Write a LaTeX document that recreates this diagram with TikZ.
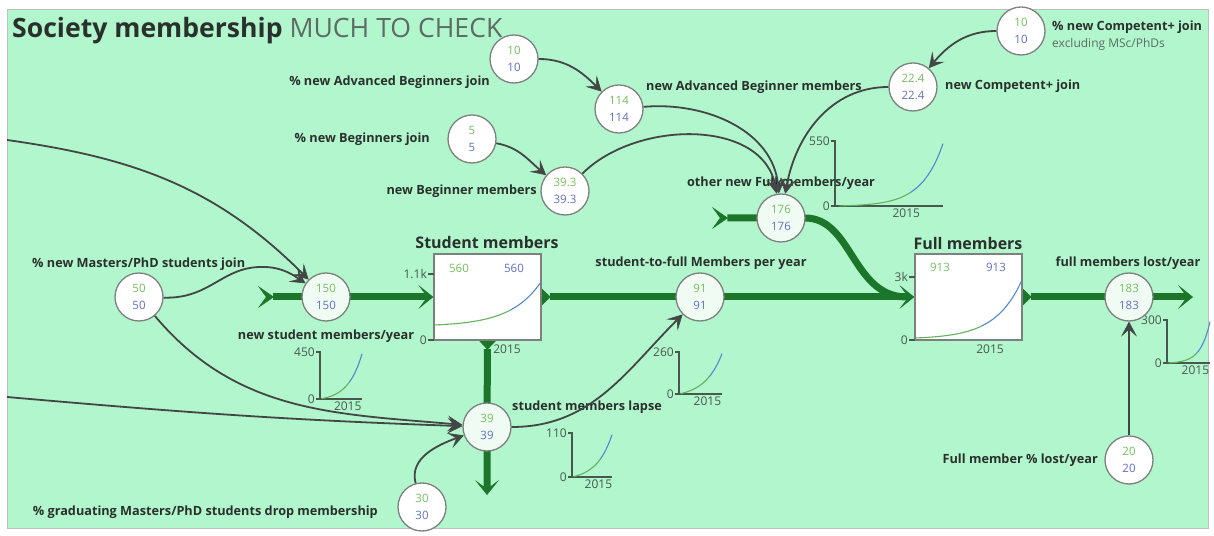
\documentclass[tikz,border=0pt]{standalone}
\usepackage{fontspec}
\setmainfont{Open Sans}
\usetikzlibrary{arrows.meta}
\pgfdeclarelayer{backdrop}
\pgfdeclarelayer{pipes}
\pgfsetlayers{backdrop,pipes,main}

\definecolor{mint}{RGB}{178,246,206}
\definecolor{pipegreen}{RGB}{28,118,42}
\definecolor{linkc}{RGB}{66,70,68}
\definecolor{numg}{RGB}{118,190,98}
\definecolor{numb}{RGB}{98,112,192}
\definecolor{ringc}{RGB}{125,128,125}
\definecolor{flowfill}{RGB}{240,251,243}
\definecolor{txt}{RGB}{42,48,44}
\definecolor{subtxt}{RGB}{92,108,98}
\definecolor{axisc}{RGB}{72,88,76}
\definecolor{trendgc}{RGB}{100,178,92}
\definecolor{trendbc}{RGB}{84,136,204}

\newcommand\twonum[2]{\textcolor{numg}{#1}\\\textcolor{numb}{#2}}

\tikzset{
  conv/.style={circle, draw=ringc, line width=1.3pt, fill=white,
    minimum size=48pt, inner sep=0pt, align=center,
    font=\fontsize{11.5}{16.5}\selectfont},
  flowc/.style={conv, fill=flowfill},
  stock/.style={draw=ringc, line width=1.3pt, fill=white,
    minimum width=107pt, minimum height=86pt, inner sep=0pt},
  lbl/.style={inner sep=0pt, text=txt, font=\fontsize{12.7}{14}\selectfont\bfseries},
  stocktitle/.style={inner sep=0pt, text=txt, font=\fontsize{16}{18}\selectfont\bfseries},
  numlbl/.style={inner sep=0pt, font=\fontsize{11.5}{13}\selectfont},
  axislbl/.style={inner sep=1pt, text=axisc, font=\fontsize{12}{14}\selectfont},
  axisline/.style={draw=axisc, line width=1.2pt},
  trendg/.style={draw=trendgc, line width=1.1pt},
  trendb/.style={draw=trendbc, line width=1.1pt},
  pipe/.style={draw=pipegreen, line width=7pt},
  link/.style={draw=linkc, line width=1.8pt,
    -{Stealth[length=15pt,width=16pt,inset=7pt,line width=0.6pt]}},
}

% small time-series plot: name, x0, y0, width, height, top value, growth rate
\newcommand\sparkplot[7]{%
  \begin{scope}[shift={(#2,#3)}]
    \draw[axisline] (-4,#5) -- (0,#5) -- (0,0) -- (#4,0);
    \draw[axisline] (-4,0) -- (0,0);
    \node[axislbl,anchor=east] (#1top) at (-4,#5) {#6};
    \node[axislbl,anchor=east] (#1zero) at (-4,0) {0};
    \node[axislbl,anchor=north] (#1year) at ({0.66*#4},-2) {2015};
    \draw[trendg] plot[domain=0.04:0.7,samples=25,smooth]
      ({\x*#4},{0.96*#5*(exp(#7*\x)-1)/(exp(#7)-1)});
    \draw[trendb] plot[domain=0.7:1,samples=12,smooth]
      ({\x*#4},{0.96*#5*(exp(#7*\x)-1)/(exp(#7)-1)});
  \end{scope}}

\begin{document}
\begin{tikzpicture}[x=1pt,y=1pt]
\useasboundingbox (0,0) rectangle (1214,535);
\begin{pgfonlayer}{backdrop}
  \fill[white] (0,0) rectangle (1214,535);
  \filldraw[fill=mint, draw=black!25, line width=0.6pt] (7,7) rectangle (1208,526);
\end{pgfonlayer}

% title
\node[anchor=base west, inner sep=0pt, text=txt] (title) at (12,497)
  {\fontsize{26.6}{30}\selectfont\bfseries Society membership
   \mdseries\textcolor{subtxt}{MUCH TO CHECK}};

% small plots (behind the circles)
\sparkplot{gI}{320}{136}{42}{47}{450}{3}
\sparkplot{gJ}{679}{141}{43}{42}{260}{2.5}
\sparkplot{gK}{572}{58}{40}{44}{110}{2.6}
\sparkplot{gG}{835}{329}{108}{65}{550}{5}
\sparkplot{gM}{1167}{172}{43}{43}{300}{4.5}

% converters
\node[conv] (A) at (514,476) {\twonum{10}{10}};
\node[conv] (B) at (619,426) {\twonum{114}{114}};
\node[conv] (C) at (472,396) {\twonum{5}{5}};
\node[conv] (D) at (565,344) {\twonum{39.3}{39.3}};
\node[conv] (E) at (1021,504) {\twonum{10}{10}};
\node[conv] (F) at (913,448) {\twonum{22.4}{22.4}};
\node[conv] (H) at (139,238) {\twonum{50}{50}};
\node[conv] (L) at (422,28) {\twonum{30}{30}};
\node[conv] (N) at (1129,75) {\twonum{20}{20}};

% flows
\node[flowc] (G) at (781,317) {\twonum{176}{176}};
\node[flowc] (I) at (326,238) {\twonum{150}{150}};
\node[flowc] (J) at (700,238) {\twonum{91}{91}};
\node[flowc] (K) at (487,108) {\twonum{39}{39}};
\node[flowc] (M) at (1129,238) {\twonum{183}{183}};

% stocks
\node[stock] (SM) at (487.5,238) {};
\node[stock] (FM) at (968.5,238) {};
\node[stocktitle] (SMt) at (487,292) {Student members};
\node[stocktitle] (FMt) at (968,291) {Full members};
\node[numlbl, text=numg] (SMg) at (459,267) {560};
\node[numlbl, text=numb] (SMb) at (514,267) {560};
\node[numlbl, text=numg] (FMg) at (940,268) {913};
\node[numlbl, text=numb] (FMb) at (996,268) {913};
\draw[axisline] (428,261) -- (434,261);
\draw[axisline] (428,195) -- (434,195);
\node[axislbl,anchor=east] (SMtop) at (428,261) {1.1k};
\node[axislbl,anchor=east] (SMzero) at (428,195) {0};
\node[axislbl,anchor=north] (SMyear) at (507,191) {2015};
\draw[axisline] (909,258) -- (915,258);
\draw[axisline] (909,195) -- (915,195);
\node[axislbl,anchor=east] (FMtop) at (909,258) {3k};
\node[axislbl,anchor=east] (FMzero) at (909,195) {0};
\node[axislbl,anchor=north] (FMyear) at (990,191) {2015};
\draw[trendg] plot[domain=0.01:0.72,samples=25,smooth]
  ({434+107*\x},{210+43*(exp(3.5*\x)-1)/(exp(3.5)-1)});
\draw[trendb] plot[domain=0.72:1,samples=12,smooth]
  ({434+107*\x},{210+43*(exp(3.5*\x)-1)/(exp(3.5)-1)});
\draw[trendg] plot[domain=0.01:0.62,samples=25,smooth]
  ({915+107*\x},{197+58*(exp(4*\x)-1)/(exp(4)-1)});
\draw[trendb] plot[domain=0.62:1,samples=12,smooth]
  ({915+107*\x},{197+58*(exp(4*\x)-1)/(exp(4)-1)});

% labels
\node[lbl,anchor=east] (Al) at (490,453) {\% new Advanced Beginners join};
\node[lbl,anchor=west] (Bl) at (646,448) {new Advanced Beginner members};
\node[lbl,anchor=east] (Cl) at (430,396) {\% new Beginners join};
\node[lbl,anchor=east] (Dl) at (537,344) {new Beginner members};
\node[lbl,anchor=west] (El) at (1052,508) {\% new Competent+ join};
\node[anchor=west, inner sep=0pt, text=subtxt, font=\fontsize{12}{14}\selectfont]
  (El2) at (1052,491) {excluding MSc/PhDs};
\node[lbl,anchor=west] (Fl) at (945,449) {new Competent+ join};
\node[lbl] (Gl) at (781,352) {other new Full members/year};
\node[lbl,anchor=west] (Hl) at (32,271) {\% new Masters/PhD students join};
\node[lbl] (Il) at (326,199) {new student members/year};
\node[lbl] (Jl) at (701,272) {student-to-full Members per year};
\node[lbl,anchor=west] (Kl) at (512,128) {student members lapse};
\node[lbl,anchor=east] (Ll) at (378,23) {\% graduating Masters/PhD students drop membership};
\node[lbl] (Ml) at (1128,272) {full members lost/year};
\node[lbl,anchor=east] (Nl) at (1098,75) {Full member \% lost/year};

% free ends of pipes and links
\coordinate (srcI) at (258,238);
\coordinate (srcG) at (712,317);
\coordinate (sinkK) at (487,40);
\coordinate (sinkM) at (1193,238);
\coordinate (offI) at (7,395);
\coordinate (offK) at (7,138);

% material flows
\begin{pgfonlayer}{pipes}
  \draw[pipe, arrows={Stealth[reversed,length=16pt,width=22pt,inset=8pt,line width=0.5pt]-Stealth[length=15pt,width=24pt,inset=9pt,line width=0.5pt]}]
    (srcI) -- (I.center) -- (SM.west);
  \draw[pipe, arrows={Triangle[reversed,length=9pt,width=17pt,line width=0.5pt]-Stealth[length=15pt,width=24pt,inset=9pt,line width=0.5pt]}]
    (SM.east) -- (J.center) -- (FM.west);
  \draw[pipe, arrows={Triangle[reversed,length=9pt,width=17pt,line width=0.5pt]-Stealth[length=15pt,width=24pt,inset=9pt,line width=0.5pt]}]
    (SM.south) -- (K.center) -- (sinkK);
  \draw[pipe, arrows={Triangle[reversed,length=9pt,width=17pt,line width=0.5pt]-Stealth[length=15pt,width=24pt,inset=9pt,line width=0.5pt]}]
    (FM.east) -- (M.center) -- (sinkM);
  \draw[pipe, arrows={Stealth[reversed,length=16pt,width=22pt,inset=8pt,line width=0.5pt]-}]
    (srcG) -- (G.center) -- (805,317) .. controls (852,317) and (852,240) .. (905,238);
\end{pgfonlayer}

% information links
\draw[link] (A) to[out=0,in=135] (B);
\draw[link] (C) to[out=-10,in=140] (D);
\draw[link] (B) to[out=5,in=95] (G);
\draw[link] (D) to[out=45,in=100] (G);
\draw[link] (F) to[out=180,in=80] (G);
\draw[link] (E) to[out=180,in=50] (F);
\draw[link] (offI) to[out=-8,in=135] (I);
\draw[link] (H) .. controls (212,236) and (222,270) .. (266,268)
                .. controls (285,267) and (296,258) .. (I);
\draw[link] (H) to[out=-50,in=175] (K);
\draw[link] (offK) to[out=-5,in=178] (K);
\draw[link] (L) to[out=105,in=200] (K);
\draw[link] (K) to[out=0,in=225] (J);
\draw[link] (N) -- (M);
\end{tikzpicture}
\end{document}
